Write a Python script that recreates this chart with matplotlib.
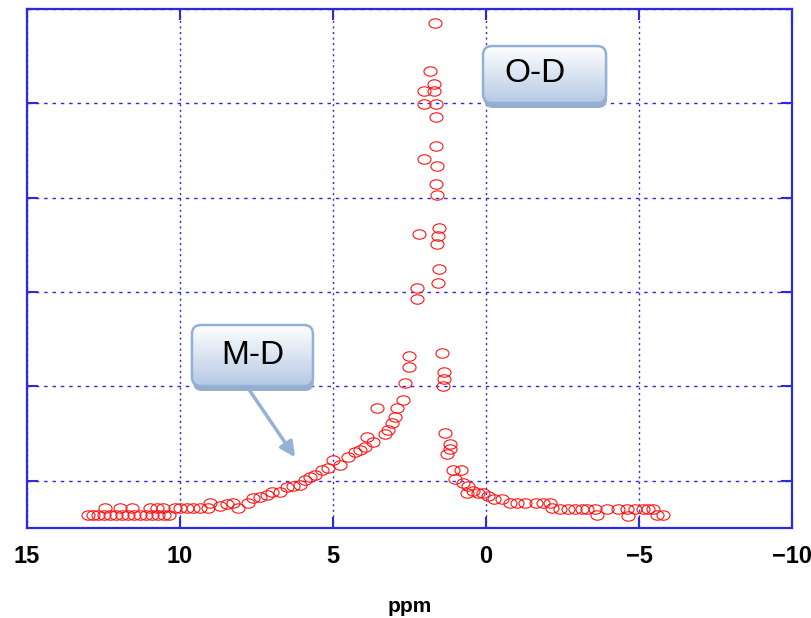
import numpy as np
import matplotlib.pyplot as plt
from matplotlib.patches import FancyBboxPatch
from matplotlib.path import Path
from matplotlib.colors import LinearSegmentedColormap

plt.rcParams['font.family'] = ['Liberation Sans', 'DejaVu Sans']
plt.rcParams['axes.unicode_minus'] = True

# chemical shift (ppm) and signal intensity
ppm = [13.01, 12.84, 12.68, 12.48, 12.45, 12.29, 12.09, 11.96, 11.90, 11.70,
       11.57, 11.50, 11.31, 11.11, 10.98, 10.92, 10.75, 10.72, 10.56, 10.52,
       10.36, 10.16, 10.00, 9.77, 9.58, 9.35, 9.08, 9.02, 8.69, 8.46,
       8.27, 8.10, 7.78, 7.61, 7.39, 7.16, 6.99, 6.73, 6.50, 6.31,
       6.08, 5.92, 5.75, 5.59, 5.36, 5.16, 5.00, 4.77, 4.51, 4.28,
       4.12, 3.95, 3.89, 3.69, 3.56, 3.30, 3.20, 3.07, 2.97, 2.91,
       2.71, 2.65, 2.52, 2.52, 2.25, 2.25, 2.19, 2.03, 2.03, 2.03,
       1.83, 1.70, 1.70, 1.67, 1.63, 1.63, 1.63, 1.60, 1.63, 1.60,
       1.54, 1.57, 1.60, 1.54, 1.57, 1.44, 1.37, 1.37, 1.41, 1.34,
       1.18, 1.18, 1.27, 1.08, 0.82, 1.01, 0.75, 0.59, 0.62, 0.42,
       0.26, 0.10, -0.07, -0.26, -0.52, -0.78, -1.01, -1.27, -1.63, -1.86,
       -2.09, -2.16, -2.42, -2.68, -2.91, -3.14, -3.30, -3.56, -3.63, -3.95,
       -4.31, -4.61, -4.64, -4.87, -5.13, -5.29, -5.46, -5.59, -5.78]
intensity = [0.64, 0.64, 0.64, 0.64, 0.71, 0.64, 0.64, 0.71, 0.64, 0.64,
             0.71, 0.64, 0.64, 0.64, 0.71, 0.64, 0.71, 0.64, 0.71, 0.64,
             0.64, 0.71, 0.71, 0.71, 0.71, 0.71, 0.71, 0.77, 0.73, 0.75,
             0.77, 0.71, 0.77, 0.82, 0.83, 0.85, 0.88, 0.88, 0.93, 0.94,
             0.96, 1.01, 1.04, 1.06, 1.12, 1.14, 1.22, 1.17, 1.25, 1.31,
             1.33, 1.36, 1.46, 1.41, 1.77, 1.50, 1.54, 1.61, 1.68, 1.77,
             1.86, 2.04, 2.21, 2.32, 2.93, 3.04, 3.62, 4.41, 4.99, 5.13,
             5.34, 5.21, 5.13, 5.85, 4.99, 4.86, 4.55, 4.34, 4.15, 4.03,
             3.68, 3.59, 3.51, 3.24, 3.10, 2.35, 2.15, 2.08, 2.01, 1.51,
             1.39, 1.34, 1.28, 1.11, 1.11, 1.02, 0.98, 0.95, 0.87, 0.89,
             0.87, 0.87, 0.84, 0.81, 0.81, 0.76, 0.77, 0.77, 0.77, 0.77,
             0.76, 0.71, 0.70, 0.70, 0.70, 0.70, 0.70, 0.70, 0.64, 0.70,
             0.70, 0.70, 0.63, 0.70, 0.70, 0.70, 0.70, 0.64, 0.64]

x_ticks = [15, 10, 5, 0, -5, -10]
y_ticks = [1, 2, 3, 4, 5, 6]

blue = '#2b2bdc'

# flattened open circle used as marker
unit = Path.unit_circle()
ellipse = Path(unit.vertices * [1.0, 0.72], unit.codes)

fig = plt.figure(figsize=(8.11, 6.18), dpi=100)
ax = fig.add_axes([0.0333, 0.1456, 0.9433, 0.8398])

ax.plot(ppm, intensity, ls='none', marker=ellipse, ms=9.4,
        mfc='none', mec='#ff1414', mew=0.8, zorder=3)

ax.set_xlim(15, -10)
ax.set_ylim(0.5, 6.0)
ax.set_xticks(x_ticks)
ax.set_yticks(y_ticks)
ax.tick_params(axis='y', labelleft=False, left=True, right=True,
               direction='in', length=8, width=1.5, color=blue)
ax.tick_params(axis='x', top=True, bottom=True, direction='in',
               length=8, width=1.5, color=blue, pad=12,
               labelsize=17)
for lab in ax.get_xticklabels():
    lab.set_fontweight('bold')

ax.xaxis.grid(True, color=blue, lw=1.0, ls=(0, (1.5, 2.5)))
ax.yaxis.grid(True, color=blue, lw=1.0, ls=(0, (2.5, 3.5)))
ax.set_axisbelow(True)
for sp in ax.spines.values():
    sp.set_color(blue)
    sp.set_linewidth(1.6)

ax.set_xlabel('ppm', fontsize=15, fontweight='bold', labelpad=21)


def callout(label, left, bottom, width, height, tx=0.45, ty=0.5):
    fw, fh = fig.get_size_inches()
    x0, y0, w, h = left * fw, bottom * fh, width * fw, height * fh
    style = 'round,pad=0,rounding_size=0.09'
    shadow = FancyBboxPatch((x0 + 0.01, y0 - 0.05), w, h, boxstyle=style,
                            transform=fig.dpi_scale_trans,
                            fc='#98adca', ec='none', zorder=1.5)
    fig.add_artist(shadow)

    bax = fig.add_axes([left, bottom, width, height])
    bax.set_zorder(2)
    bax.axis('off')
    cmap = LinearSegmentedColormap.from_list('fill', ['#ffffff', '#b5c9e3'])
    grad = np.linspace(0, 1, 128).reshape(-1, 1)
    im = bax.imshow(grad, cmap=cmap, extent=(0, 1, 0, 1), aspect='auto',
                    origin='upper')
    body = FancyBboxPatch((x0, y0), w, h, boxstyle=style,
                          transform=fig.dpi_scale_trans,
                          fc='none', ec='#93b1d6', lw=1.8)
    body.set_clip_on(False)
    bax.add_patch(body)
    im.set_clip_path(body)
    bax.set_xlim(0, 1)
    bax.set_ylim(0, 1)
    bax.text(tx, ty, label, transform=bax.transAxes, ha='center',
             va='center', fontsize=24, color='black')


callout('O-D', 0.5956, 0.8333, 0.1517, 0.0922, tx=0.42, ty=0.52)
callout('M-D', 0.2367, 0.3754, 0.1492, 0.0987, tx=0.50, ty=0.50)

# arrow from the M-D box down to the shoulder of the curve
ax.annotate('', xy=(6.24, 1.25), xycoords='data',
            xytext=(0.3058, 0.3720), textcoords='figure fraction',
            arrowprops=dict(arrowstyle='-|>,head_length=0.9,head_width=0.45',
                            color='#94b2d6', lw=2.5, shrinkA=0, shrinkB=0),
            zorder=4)

fig.savefig('out.png', dpi=100)
